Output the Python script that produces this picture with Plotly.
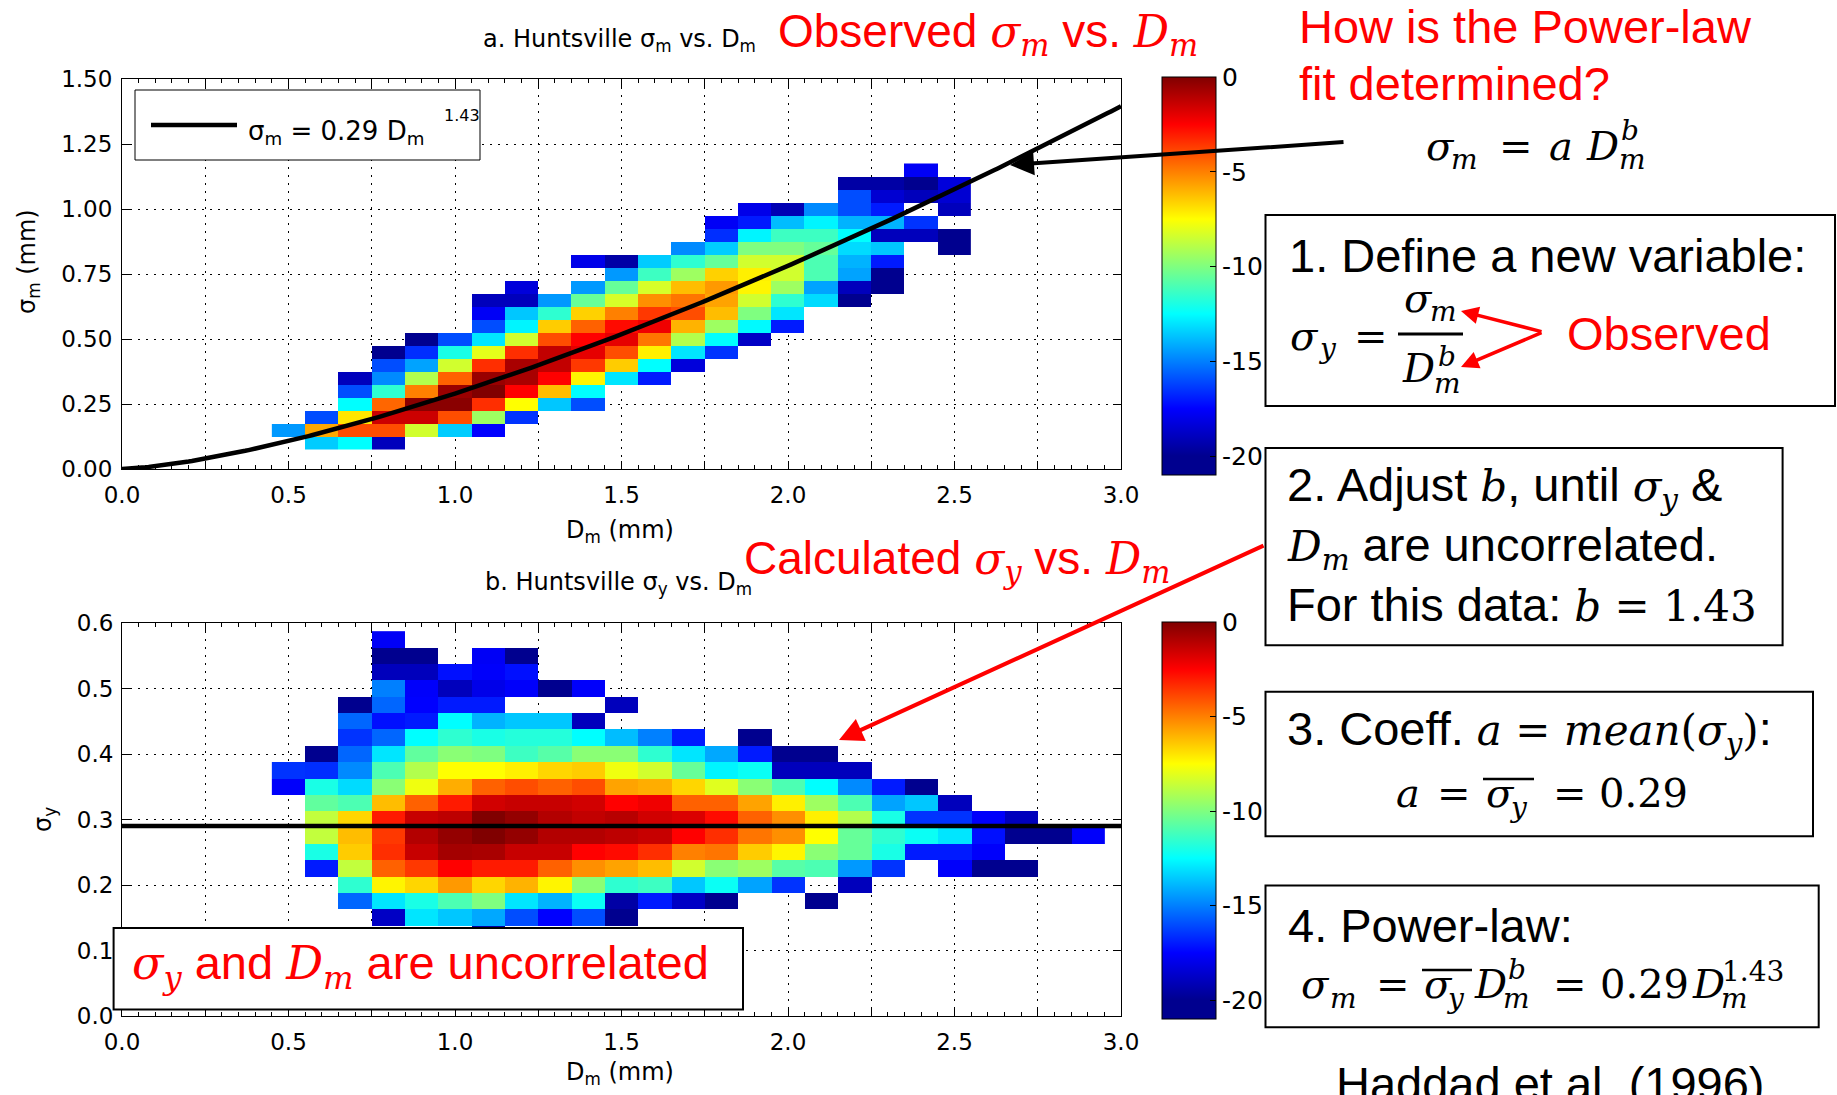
import numpy as np
import plotly.graph_objects as go

W, H = 1837, 1095

# ---------------------------------------------------------------------------
# Panel a: log relative frequency of (Dm, sigma_m) pairs, Huntsville
# each row: (sigma_m bin centre, first occupied Dm bin, values along Dm)
# ---------------------------------------------------------------------------
DM_BINS_A = [0.5, 0.6, 0.7, 0.8, 0.9, 1.0, 1.1, 1.2, 1.3, 1.4, 1.5,
             1.6, 1.7, 1.8, 1.9, 2.0, 2.1, 2.2, 2.3, 2.4, 2.5]
ROWS_A = [
    (0.10, 0.6, [-13.5, -12.5, -19.0]),
    (0.15, 0.5, [-14.5, -5.8, -4.0, -4.0, -8.4, -13.5, -17.5]),
    (0.20, 0.6, [-16.0, -7.0, -1.5, -1.5, -4.0, -9.4, -16.5]),
    (0.25, 0.7, [-12.5, -4.5, -0.2, -0.2, -3.4, -7.5, -13.6, -16.0]),
    (0.30, 0.7, [-16.0, -11.6, -5.0, -0.5, 0.0, -2.5, -6.2, -12.5]),
    (0.35, 0.7, [-19.0, -14.8, -9.0, -4.4, -0.5, -0.8, -2.5, -7.3, -13.0, -17.0]),
    (0.40, 0.8, [-16.0, -14.3, -8.4, -3.4, -0.8, -1.3, -3.6, -6.5, -12.5, -18.3]),
    (0.45, 0.8, [-20.0, -16.6, -12.0, -8.0, -3.4, -1.3, -2.0, -4.0, -7.2, -13.0, -16.5]),
    (0.50, 0.9, [-20.0, -16.0, -13.0, -8.4, -4.0, -2.5, -2.0, -4.8, -9.0, -12.5, -18.8]),
    (0.55, 1.1, [-16.0, -12.7, -6.5, -4.4, -2.7, -2.2, -6.0, -9.4, -12.6, -17.0]),
    (0.60, 1.1, [-17.7, -13.6, -11.6, -6.6, -5.0, -3.6, -4.0, -6.2, -10.0, -13.0]),
    (0.65, 1.1, [-19.0, -19.0, -14.5, -10.5, -8.3, -5.3, -4.8, -5.7, -8.4, -11.6, -13.2, -20.0]),
    (0.70, 1.2, [-18.3, None, -14.5, -10.5, -8.3, -6.2, -5.5, -7.3, -9.4, -14.3, -19.0, -20.0]),
    (0.75, 1.5, [-14.5, -11.3, -9.4, -6.6, -7.2, -8.4, -11.0, -14.3, -20.0]),
    (0.80, 1.4, [-18.0, -19.5, -13.5, -11.6, -10.5, -8.4, -8.4, -11.0, -14.0, -17.0]),
    (0.85, 1.7, [-14.8, -13.5, -10.0, -10.0, -10.5, -13.2, -13.6, None, -20.0]),
    (0.90, 1.8, [-16.6, -12.7, -11.3, -11.3, -12.5, -19.0, -19.0, -20.0]),
    (0.95, 1.8, [-17.7, -17.0, -13.8, -12.7, -14.0, -14.0, -16.5]),
    (1.00, 1.9, [-18.0, -19.2, -14.8, -16.0, -17.0, None, -19.0]),
    (1.05, 2.2, [-16.0, -18.5, -19.0, -18.5]),
    (1.10, 2.2, [-19.5, -19.5, -20.0, -18.3]),
    (1.15, 2.4, [-17.7]),
]

# ---------------------------------------------------------------------------
# Panel b: log relative frequency of (Dm, sigma_y) pairs
# ---------------------------------------------------------------------------
DM_BINS_B = [0.5, 0.6, 0.7, 0.8, 0.9, 1.0, 1.1, 1.2, 1.3, 1.4, 1.5, 1.6, 1.7,
             1.8, 1.9, 2.0, 2.1, 2.2, 2.3, 2.4, 2.5, 2.6, 2.7, 2.8, 2.9]
ROWS_B = [
    (0.125, 1.1, [-19.5]),
    (0.150, 0.8, [-18.8, -13.0, -13.6, -14.2, -16.0, -17.5, -16.0, -20.0]),
    (0.175, 0.7, [-15.5, -13.0, -12.0, -11.0, -10.0, -13.0, -14.0, -12.3, -19.5, -17.0,
                  -18.8, -20.0, None, None, -20.0]),
    (0.200, 0.7, [-11.6, -7.3, -6.7, -5.5, -6.7, -6.0, -7.3, -9.8, -11.6, -11.3,
                  -13.6, -12.3, -14.3, -16.5, None, -19.0]),
    (0.225, 0.6, [-17.0, -8.7, -4.4, -3.6, -2.5, -3.0, -3.0, -4.4, -5.3, -5.7, -6.2,
                  -8.4, -9.8, -9.4, -10.8, -11.0, -14.5, -16.5, None, -17.6, -20.0, -20.0]),
    (0.250, 0.6, [-12.0, -6.5, -3.4, -1.4, -0.7, -0.8, -1.4, -1.4, -2.5, -2.7, -3.4,
                  -5.0, -4.8, -6.5, -7.3, -9.8, -10.5, -12.0, -17.0, -17.0, -17.6]),
    (0.275, 0.6, [-8.7, -6.2, -3.6, -1.0, -0.4, 0.0, -0.4, -1.0, -1.0, -1.2, -1.4,
                  -2.5, -3.4, -4.8, -5.3, -7.5, -10.5, -11.6, -12.3, -13.0, -17.2,
                  -20.0, -20.0, -17.6]),
    (0.300, 0.6, [-8.7, -6.7, -3.0, -1.4, -1.2, 0.0, -0.4, -1.0, -1.3, -1.1, -1.6,
                  -1.8, -2.7, -4.4, -5.3, -7.2, -9.0, -12.0, -16.5, -16.5, -17.6, -19.0]),
    (0.325, 0.6, [-10.6, -11.0, -6.2, -4.4, -3.0, -1.6, -1.4, -1.4, -1.6, -2.5, -2.2,
                  -4.4, -4.4, -5.7, -7.2, -9.4, -11.0, -14.3, -13.6, -19.0]),
    (0.350, 0.5, [-17.6, -12.0, -13.2, -9.8, -7.8, -5.9, -4.4, -4.0, -4.4, -4.0, -5.7,
                  -5.9, -6.7, -8.1, -9.8, -11.0, -12.5, -14.8, -17.0, -20.0]),
    (0.375, 0.5, [-16.5, -16.6, -14.8, -11.0, -9.0, -7.5, -7.5, -7.2, -6.7, -6.5, -7.8,
                  -8.4, -10.5, -12.7, -12.3, -19.0, -19.0, -19.0]),
    (0.400, 0.6, [-20.0, -15.5, -13.0, -10.6, -9.8, -10.0, -11.3, -10.8, -9.8, -9.8,
                  -11.6, -13.0, -14.2, -17.0, -20.0, -20.0]),
    (0.425, 0.7, [-16.5, -15.5, -12.5, -11.6, -12.0, -11.8, -11.8, -12.5, -13.8, -15.0,
                  -17.0, None, -20.0]),
    (0.450, 0.7, [-15.5, -17.2, -17.0, -12.5, -14.0, -13.6, -13.6, -19.0]),
    (0.475, 0.7, [-20.0, -15.5, -17.5, -17.0, -17.0, None, None, None, -19.0]),
    (0.500, 0.8, [-15.0, -17.6, -19.0, -18.0, -17.6, -20.0, -17.6]),
    (0.525, 0.8, [-19.0, -19.0, -17.2, -17.6, -17.2]),
    (0.550, 0.8, [-20.0, -20.0, None, -17.7, -20.0]),
    (0.575, 0.8, [-17.7]),
]

# power-law fit sigma_m = a * Dm^b
FIT_A = 0.29
FIT_B = 1.43

# axis ticks
X_TICKVALS = [0.0, 0.25, 0.5, 0.75, 1.0, 1.25, 1.5, 1.75, 2.0, 2.25, 2.5, 2.75, 3.0]
X_TICKTEXT = ['0.0', '', '0.5', '', '1.0', '', '1.5', '', '2.0', '', '2.5', '', '3.0']
Y_TICKVALS_A = [0.0, 0.25, 0.5, 0.75, 1.0, 1.25, 1.5]
Y_TICKTEXT_A = ['0.00', '0.25', '0.50', '0.75', '1.00', '1.25', '1.50']
Y_TICKVALS_B = [0.0, 0.1, 0.2, 0.3, 0.4, 0.5, 0.6]
Y_TICKTEXT_B = ['0.0', '0.1', '0.2', '0.3', '0.4', '0.5', '0.6']
CBAR_TICKVALS = [-20, -15, -10, -5, 0]
CBAR_TICKTEXT = ['-20', '-15', '-10', '-5', '0']
Z_MIN, Z_MAX = -21, 0

SANS = 'Liberation Sans, Arial, sans-serif'
AXF = 'DejaVu Sans, sans-serif'
RED = '#FF0000'

# jet colour map, flat below -20
JET = [
    [0.0, '#00008F'],
    [1 / 21, '#00008F'],
    [3.5 / 21, '#0000FF'],
    [8.5 / 21, '#00FFFF'],
    [13.5 / 21, '#FFFF00'],
    [18.5 / 21, '#FF0000'],
    [1.0, '#800000'],
]


def grid(rows, x_bins):
    z = []
    for _, first, vals in rows:
        i0 = x_bins.index(first)
        z.append([None] * i0 + list(vals) + [None] * (len(x_bins) - i0 - len(vals)))
    return [r[0] for r in rows], z


def px(x):
    return x / W


def py(y):
    return 1 - y / H


def cbar(top, bottom):
    return dict(
        x=px(1162), xanchor='left', xpad=0, ypad=0,
        y=py((top + bottom) / 2), yanchor='middle',
        len=(bottom - top) / H, lenmode='fraction',
        thickness=54, thicknessmode='pixels',
        outlinewidth=1, outlinecolor='black',
        tickmode='array', tickvals=CBAR_TICKVALS, ticktext=CBAR_TICKTEXT,
        ticks='inside', ticklen=6, tickcolor='black',
        tickfont=dict(family=AXF, size=25, color='black'),
    )


fig = go.Figure()

ya, za = grid(ROWS_A, DM_BINS_A)
fig.add_trace(go.Heatmap(
    x=DM_BINS_A, y=ya, z=za, zmin=Z_MIN, zmax=Z_MAX, colorscale=JET,
    xaxis='x', yaxis='y', colorbar=cbar(77, 475), hoverongaps=False))

yb, zb = grid(ROWS_B, DM_BINS_B)
fig.add_trace(go.Heatmap(
    x=DM_BINS_B, y=yb, z=zb, zmin=Z_MIN, zmax=Z_MAX, colorscale=JET,
    xaxis='x2', yaxis='y2', colorbar=cbar(622, 1019), hoverongaps=False))

d_fit = np.linspace(0.0, 3.0, 301)
fig.add_trace(go.Scatter(
    x=d_fit, y=FIT_A * d_fit ** FIT_B, mode='lines',
    line=dict(color='black', width=4.5), xaxis='x', yaxis='y',
    showlegend=False, hoverinfo='skip'))
fig.add_trace(go.Scatter(
    x=[0.0, 3.0], y=[FIT_A, FIT_A], mode='lines',
    line=dict(color='black', width=4.5), xaxis='x2', yaxis='y2',
    showlegend=False, hoverinfo='skip'))

tickfont = dict(family=AXF, size=23, color='black')
base_axis = dict(
    showline=True, linecolor='black', linewidth=1, mirror='allticks',
    ticks='inside', ticklen=8, tickcolor='black', zeroline=False,
    showgrid=True, gridcolor='black', gridwidth=1, griddash='2px,6px',
    tickfont=tickfont, tickmode='array', automargin=False,
)
x_axis = dict(base_axis, range=[0, 3], tickvals=X_TICKVALS, ticktext=X_TICKTEXT,
              ticklabelstandoff=5,
              minor=dict(tickmode='linear', tick0=0, dtick=0.05, ticks='inside',
                         ticklen=4, tickcolor='black', showgrid=False))
x_dom = [px(122), px(1121)]

fig.update_layout(
    width=W, height=H,
    margin=dict(l=0, r=0, t=0, b=0, pad=0, autoexpand=False),
    paper_bgcolor='white', plot_bgcolor='white', showlegend=False,
    xaxis=dict(x_axis, domain=x_dom, anchor='y'),
    yaxis=dict(base_axis, range=[0, 1.5], domain=[py(469), py(79)], anchor='x',
               tickvals=Y_TICKVALS_A, ticktext=Y_TICKTEXT_A, ticklabelstandoff=4),
    xaxis2=dict(x_axis, domain=x_dom, anchor='y2'),
    yaxis2=dict(base_axis, range=[0, 0.6], domain=[py(1016), py(623)], anchor='x2',
                tickvals=Y_TICKVALS_B, ticktext=Y_TICKTEXT_B, ticklabelstandoff=3),
)

ANN = []
SHAPES = []


def M(s, size=None):
    st = 'font-family:DejaVu Serif'
    if size:
        st += ';font-size:%dpx' % size
    return '<span style="%s">%s</span>' % (st, s)


def text(s, x, base, size, family=SANS, color='black', anchor='left'):
    ANN.append(dict(text=s, x=px(x), y=py(base - 0.346 * size), xref='paper', yref='paper',
                    xanchor=anchor, yanchor='middle', showarrow=False,
                    font=dict(family=family, size=size, color=color)))


def math(pieces, color='black'):
    for s, x, base, size in pieces:
        text(s, x, base, size, family='DejaVu Serif, serif', color=color)


def arrow(head, tail, color, width, size=1.0, style=2):
    ANN.append(dict(x=px(head[0]), y=py(head[1]), xref='paper', yref='paper',
                    ax=tail[0] - head[0], ay=tail[1] - head[1],
                    axref='pixel', ayref='pixel', text='', showarrow=True,
                    arrowhead=style, arrowsize=size, arrowwidth=width, arrowcolor=color))


def rect(x0, y0, x1, y1, lw=2, fill='rgba(0,0,0,0)'):
    SHAPES.append(dict(type='rect', xref='paper', yref='paper', x0=px(x0), x1=px(x1),
                       y0=py(y1), y1=py(y0), line=dict(color='black', width=lw),
                       fillcolor=fill, layer='above'))


def hline(x0, x1, y, lw, color='black'):
    SHAPES.append(dict(type='line', xref='paper', yref='paper', x0=px(x0), x1=px(x1),
                       y0=py(y), y1=py(y), line=dict(color=color, width=lw), layer='above'))


# panel titles and axis titles
text('a. Huntsville σ<sub>m</sub> vs. D<sub>m</sub>', 619, 49, 24, AXF, anchor='center')
text('b. Huntsville σ<sub>y</sub> vs. D<sub>m</sub>', 618, 592, 24, AXF, anchor='center')
text('D<sub>m</sub> (mm)', 620, 540, 24, AXF, anchor='center')
text('D<sub>m</sub> (mm)', 620, 1082, 24, AXF, anchor='center')
ANN.append(dict(text='σ<sub>m</sub> (mm)', x=px(28), y=py(262), xref='paper', yref='paper',
                xanchor='center', yanchor='middle', textangle=-90, showarrow=False,
                font=dict(family=AXF, size=24, color='black')))
ANN.append(dict(text='σ<sub>y</sub>', x=px(44), y=py(820), xref='paper', yref='paper',
                xanchor='center', yanchor='middle', textangle=-90, showarrow=False,
                font=dict(family=AXF, size=24, color='black')))

# red headings
text('Observed ' + M('<i>σ</i><sub><i>m</i></sub>', 44) + ' vs. ' + M('<i>D</i><sub><i>m</i></sub>', 44),
     776, 50, 46, color=RED)
text('Calculated ' + M('<i>σ</i><sub><i>y</i></sub>', 44) + ' vs. ' + M('<i>D</i><sub><i>m</i></sub>', 44),
     742, 577, 46, color=RED)

# fit legend
rect(135, 90, 480, 160, lw=1, fill='white')
hline(151, 237, 125, 4.5)
text('σ<sub>m</sub> = 0.29 D<sub>m</sub>', 246, 141, 26, AXF)
text('1.43', 442, 121, 16, AXF)

# uncorrelated note on panel b
rect(113.6, 928, 743, 1009.5, lw=2, fill='white')
text(M('<i>σ</i><sub><i>y</i></sub>', 46) + ' and ' + M('<i>D</i><sub><i>m</i></sub>', 46)
     + ' are uncorrelated', 130, 983, 47, color=RED)

# right-hand explanation
text('How is the Power-law', 1297, 43, 47, color=RED)
text('fit determined?', 1297, 100, 47, color=RED)
math([('<i>σ</i>', 1424, 160, 40), ('<i>m</i>', 1449, 169, 28), ('=', 1497, 160, 40),
      ('<i>a</i>', 1547, 160, 40), ('<i>D</i>', 1584, 160, 40), ('<i>b</i>', 1619, 140, 28),
      ('<i>m</i>', 1617, 169, 28)])

rect(1265.5, 215, 1835, 406)
text('1. Define a new variable:', 1287, 272, 47)
math([('<i>σ</i>', 1288, 350, 40), ('<i>y</i>', 1316, 358, 28), ('=', 1352, 350, 40),
      ('<i>σ</i>', 1402, 312, 40), ('<i>m</i>', 1428, 321, 28),
      ('<i>D</i>', 1400, 382, 40), ('<i>b</i>', 1436, 366, 28), ('<i>m</i>', 1432, 393, 28)])
hline(1398, 1463, 334, 3)
text('Observed', 1565, 350, 47, color=RED)

rect(1265.5, 448, 1782.6, 645.3)
text('2. Adjust ' + M('<i>b</i>', 42) + ', until ' + M('<i>σ</i><sub><i>y</i></sub>', 42) + ' &',
     1285, 503.5, 47)
text(M('<i>D</i><sub><i>m</i></sub>', 42) + ' are uncorrelated.', 1285, 564, 47)
text('For this data: ' + M('<i>b</i> = 1.43', 42), 1285, 621, 47)

rect(1265.5, 691.7, 1813, 836.3)
text('3. Coeff. ' + M('<i>a</i> = <i>mean</i>(<i>σ</i><sub><i>y</i></sub>)', 42) + ':',
     1285, 747.5, 47)
math([('<i>a</i>', 1394, 807, 40), ('=', 1435, 807, 40), ('<i>σ</i>', 1484, 807, 40),
      ('<i>y</i>', 1507, 817, 28), ('=', 1551, 807, 40), ('0.29', 1597, 807, 40)])
hline(1483, 1534, 779, 2.5)

rect(1265.5, 885.6, 1818.7, 1027.3)
text('4. Power-law:', 1286, 942, 47)
math([('<i>σ</i>', 1299, 998, 40), ('<i>m</i>', 1328, 1008, 28), ('=', 1374, 998, 40),
      ('<i>σ</i>', 1422, 998, 40), ('<i>y</i>', 1444, 1008, 28), ('<i>D</i>', 1472, 998, 40),
      ('<i>b</i>', 1506, 979, 28), ('<i>m</i>', 1501, 1008, 28), ('=', 1551, 998, 40),
      ('0.29', 1598, 998, 40), ('<i>D</i>', 1690, 998, 40), ('1.43', 1720, 981, 28),
      ('<i>m</i>', 1719, 1008, 28)])
hline(1422, 1472, 970, 2.5)

text('Haddad et al. (1996)', 1334, 1100, 47)

# arrows
arrow((1010, 165), (1345, 142), 'black', 4, size=1.2)
arrow((839, 740), (1265, 545), RED, 4, size=1.2)
arrow((1461, 311), (1543, 332), RED, 3.5, size=1.0)
arrow((1461, 367), (1543, 332), RED, 3.5, size=1.0)

fig.update_layout(annotations=ANN, shapes=SHAPES)
fig.write_html("out.html")
